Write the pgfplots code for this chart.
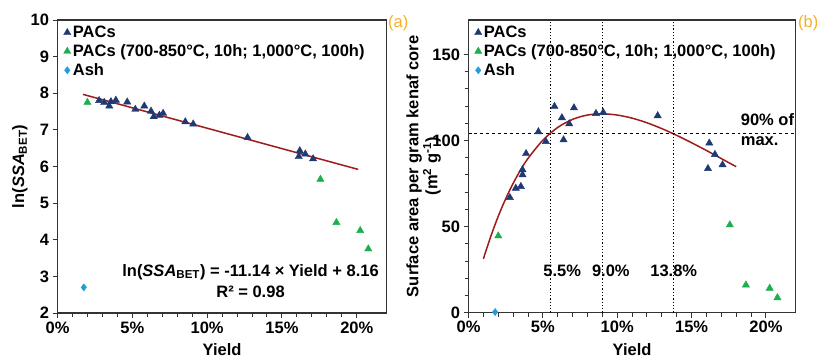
\documentclass[border=0pt]{standalone}
\usepackage{fontspec}
\setmainfont{Liberation Sans}
\usepackage{pgfplots}
\pgfplotsset{compat=1.18}
\definecolor{navy}{HTML}{1F3A73}
\definecolor{grn}{HTML}{1DAE4D}
\definecolor{ashb}{HTML}{1E9FDB}
\definecolor{trend}{HTML}{9E1C1C}
\definecolor{lbl}{HTML}{F5B025}
\definecolor{frame}{HTML}{333333}
\newcommand{\F}{\bfseries\fontsize{16.5bp}{19bp}\selectfont}
\pgfplotsset{
  common/.style={
    scale only axis, anchor=south west,
    xmin=0, xmax=22,
    xtick={0,5,10,15,20},
    xticklabels={0\%,5\%,10\%,15\%,20\%},
    minor x tick num=4,
    tick align=outside, xtick pos=bottom, ytick pos=left,
    major tick length=5bp, minor tick length=4bp,
    every tick/.style={frame, line width=1bp},
    axis line style={frame, line width=1.3bp},
    tick label style={font=\F},
    /pgf/number format/assume math mode=true,
    label style={font=\F},
    xlabel={Yield},
    xlabel style={at={(axis description cs:0.5,-0.125)}, anchor=center},
    legend style={draw=none, fill=none, font=\F, at={(axis description cs:0.015,0.99)}, anchor=north west, row sep=1.5bp, inner sep=1bp},
    legend cell align=left,
    clip=false,
  },
  pac/.style={only marks, mark=triangle*, mark size=4.2bp, color=navy},
  pacg/.style={only marks, mark=triangle*, mark size=4.2bp, color=grn},
  ash/.style={only marks, mark=diamond*, mark size=3.6bp, color=ashb},
}
\begin{document}
\begin{tikzpicture}[x=1bp,y=1bp]
\path[use as bounding box] (0,0) rectangle (817,358);
% ---------------- (a) ----------------
\begin{axis}[common,
  at={(57.5bp,45bp)}, width=329.2bp, height=293bp,
  ymin=2, ymax=10, ytick={2,3,4,5,6,7,8,9,10},
  ylabel={ln(\textit{SSA}\textsubscript{BET})},
  ylabel style={at={(axis description cs:-0.114,0.5)}, anchor=center},
]
\addplot[pac] coordinates {
(2.78,7.80) (3.12,7.75) (3.46,7.65) (3.57,7.77) (3.90,7.81) (4.66,7.76)
(5.20,7.56) (5.80,7.65) (6.25,7.51) (6.43,7.36) (6.81,7.40) (7.06,7.45)
(8.54,7.22) (9.07,7.16) (12.70,6.79) (16.19,6.43) (16.12,6.27) (16.56,6.34) (17.08,6.21)};
\addlegendentry{PACs}
\addplot[pacg] coordinates {(2.0,7.75) (17.57,5.65) (18.64,4.47) (20.23,4.25) (20.77,3.75)};
\addlegendentry{PACs (700-850°C, 10h; 1,000°C, 100h)}
\addplot[ash] coordinates {(1.76,2.70)};
\addlegendentry{Ash}
\addplot[trend, line width=1.5bp, forget plot] coordinates {(1.7,7.97) (20.1,5.92)};
\node[font=\F, anchor=center] at (axis cs:12.9,3.12) {ln(\textit{SSA}\textsubscript{BET}) = -11.14 × Yield + 8.16};
\node[font=\F, anchor=center] at (axis cs:12.9,2.58) {R² = 0.98};
\end{axis}
\node[font=\fontsize{16.5bp}{19bp}\selectfont, text=lbl, anchor=west, inner sep=0pt] at (388,335) {(a)};
% ---------------- (b) ----------------
\begin{axis}[common,
  at={(468.5bp,45.3bp)}, width=327.2bp, height=292.7bp,
  ymin=0, ymax=170, ytick={0,50,100,150}, minor y tick num=4,
  ylabel={Surface area per gram kenaf core\\(m\textsuperscript{2} g\textsuperscript{-1})},
  ylabel style={at={(axis description cs:-0.1375,0.5)}, anchor=center, align=center},
]
\addplot[pac] coordinates {
(5.78,119.8) (6.28,113.2) (7.09,119.0) (6.77,109.7) (6.39,100.4) (5.20,99.4)
(4.70,105.1) (3.87,92.4) (3.63,83.0) (3.63,80.1) (8.57,115.7) (9.06,116.3)
(12.72,114.4) (16.19,98.5) (16.57,91.9) (16.10,83.7) (17.08,85.9)
(2.78,66.9) (3.18,72.3) (3.52,73.3)};
\addlegendentry{PACs}
\addplot[pacg] coordinates {(2.0,44.6) (17.57,51.0) (18.65,16.1) (20.25,14.2) (20.77,8.7)};
\addlegendentry{PACs (700-850°C, 10h; 1,000°C, 100h)}
\addplot[ash] coordinates {(1.79,0.4)};
\addlegendentry{Ash}
\addplot[trend, line width=1.5bp, smooth, forget plot] coordinates {
(1,31.3) (1.5,44.4) (2,56.0) (2.5,66.2) (3,75.1) (3.5,82.9) (4,89.6) (5,100.2)
(6,107.6) (7,112.3) (8,114.8) (9,115.5) (10,114.8) (11,113.0) (12,110.3)
(13,106.9) (14,103.0) (15,98.7) (16,94.2) (17,89.5) (18,84.8)};
\addplot[black, dashed, line width=1bp, forget plot] coordinates {(0,104) (22,104)};
\addplot[black, dotted, line width=1.3bp, forget plot] coordinates {(5.5,0) (5.5,170)};
\addplot[black, dotted, line width=1.3bp, forget plot] coordinates {(9.0,0) (9.0,170)};
\addplot[black, dotted, line width=1.3bp, forget plot] coordinates {(13.8,0) (13.8,170)};
\node[font=\F] at (axis cs:6.3,24.6) {5.5\%};
\node[font=\F] at (axis cs:9.57,24.6) {9.0\%};
\node[font=\F] at (axis cs:13.8,24.6) {13.8\%};
\node[font=\F, anchor=west, inner sep=0pt] at (axis cs:18.3,112) {90\% of};
\node[font=\F, anchor=west, inner sep=0pt] at (axis cs:18.3,99.4) {max.};
\end{axis}
\node[font=\fontsize{16.5bp}{19bp}\selectfont, text=lbl, anchor=west, inner sep=0pt] at (798,335) {(b)};
\end{tikzpicture}
\end{document}
